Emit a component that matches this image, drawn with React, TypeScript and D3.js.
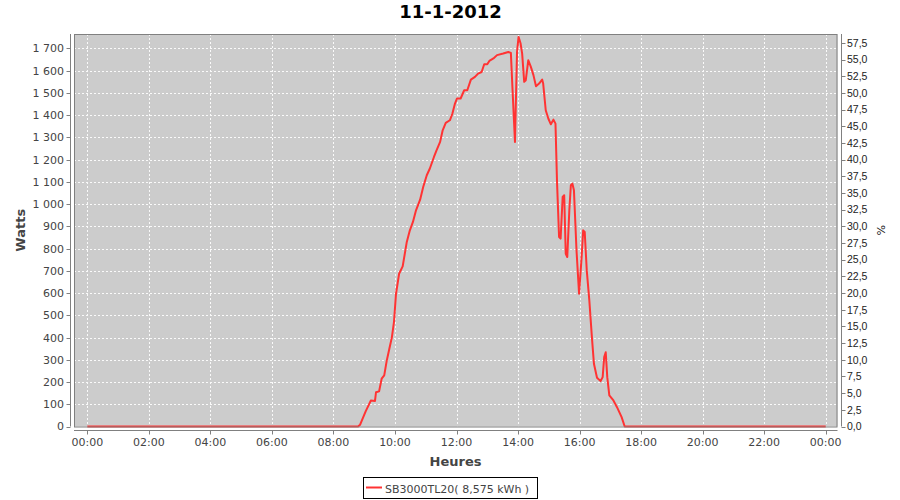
import React from "react";
import * as d3 from "d3";

const TITLE = "11-1-2012";
const LEGEND_LABEL = "SB3000TL20( 8,575 kWh )";
const X_LABEL = "Heures";
const Y_LABEL = "Watts";
const Y2_LABEL = "%";

// time of day (HH:MM) and power (W)
const times = [
  "00:00", "08:48", "08:52", "09:03", "09:13", "09:21", "09:23", "09:29", "09:34", "09:39",
  "09:44", "09:49", "09:54", "09:58", "10:02", "10:08", "10:15", "10:23", "10:29", "10:35",
  "10:41", "10:49", "10:55", "11:02", "11:08", "11:16", "11:21", "11:28", "11:33", "11:39",
  "11:47", "11:52", "11:57", "12:01", "12:08", "12:15", "12:21", "12:28", "12:36", "12:42",
  "12:49", "12:54", "13:00", "13:04", "13:12", "13:19", "13:31", "13:41", "13:46", "13:49",
  "13:54", "13:58", "14:01", "14:05", "14:08", "14:12", "14:15", "14:20", "14:25", "14:30",
  "14:35", "14:41", "14:47", "14:49", "14:54", "14:59", "15:04", "15:09", "15:13", "15:16",
  "15:20", "15:23", "15:27", "15:30", "15:33", "15:36", "15:40", "15:43", "15:46", "15:49",
  "15:54", "15:59", "16:04", "16:07", "16:10", "16:14", "16:19", "16:24", "16:28", "16:34",
  "16:41", "16:45", "16:48", "16:51", "16:54", "16:58", "17:06", "17:13", "17:22", "17:28",
  "24:00",
];
const watts = [
  0, 0, 8, 69, 117, 115, 154, 158, 215, 230,
  297, 350, 402, 469, 597, 687, 720, 830, 882, 920,
  972, 1020, 1077, 1130, 1160, 1212, 1242, 1280, 1332, 1365,
  1377, 1407, 1452, 1475, 1475, 1512, 1512, 1560, 1572, 1587,
  1594, 1629, 1629, 1644, 1655, 1670, 1677, 1684, 1680, 1527,
  1279, 1684, 1752, 1722, 1677, 1550, 1557, 1647, 1617, 1580,
  1530, 1542, 1560, 1542, 1422, 1385, 1359, 1380, 1362, 1100,
  852, 845, 1032, 1040, 777, 762, 972, 1085, 1092, 1062,
  792, 597, 762, 882, 875, 702, 567, 402, 282, 219,
  204, 222, 312, 334, 222, 140, 117, 87, 42, 0,
  0,
];

const xTickHours = [0, 2, 4, 6, 8, 10, 12, 14, 16, 18, 20, 22, 24];
const yTicks = [0, 100, 200, 300, 400, 500, 600, 700, 800, 900, 1000, 1100, 1200, 1300, 1400, 1500, 1600, 1700];
const y2Ticks = [0, 2.5, 5, 7.5, 10, 12.5, 15, 17.5, 20, 22.5, 25, 27.5, 30, 32.5, 35, 37.5, 40, 42.5, 45, 47.5, 50, 52.5, 55, 57.5];
const RATED_W = 3000;
const Y_MAX = 1765;

const toMin = (t: string) => {
  const [h, m] = t.split(":").map(Number);
  return h * 60 + m;
};

export default function App() {
  const L = 74, R = 837.5, T = 34, B = 426.5;
  const x = d3.scaleLinear().domain([-26, 1463]).range([L, R]);
  const y = d3.scaleLinear().domain([0, Y_MAX]).range([B, T]);
  const y2 = d3.scaleLinear().domain([0, (Y_MAX / RATED_W) * 100]).range([B, T]);

  const pts = times.map((t, i) => [toMin(t), watts[i]] as [number, number]);
  const line = d3
    .line<[number, number]>()
    .x((d) => x(d[0]))
    .y((d) => y(d[1]));

  const fmtY = (v: number) => {
    const s = String(v);
    return v >= 1000 ? s.slice(0, s.length - 3) + " " + s.slice(-3) : s;
  };
  const fmtY2 = (v: number) => v.toFixed(1).replace(".", ",");
  const fmtX = (h: number) => String(h % 24).padStart(2, "0") + ":00";

  const tickFont = "DejaVu Sans, sans-serif";
  const axisColor = "#808080";
  const textColor = "#444444";

  return (
    <svg
      width={900}
      height={500}
      style={{ position: "absolute", left: 0, top: 0, background: "#ffffff" }}
    >
      <rect x={0} y={0} width={900} height={500} fill="#ffffff" />
      <text x={450.5} y={17.5} textAnchor="middle" fontFamily={tickFont} fontWeight="bold" fontSize={18} fill="#000">
        {TITLE}
      </text>

      {/* plot background */}
      <rect x={L} y={T} width={R - L} height={B - T} fill="#cccccc" />

      {/* grid */}
      <g stroke="#ffffff" strokeWidth={1} strokeDasharray="2,2" opacity={0.9}>
        {xTickHours.map((h) => (
          <line key={"gx" + h} x1={Math.round(x(h * 60)) + 0.5} x2={Math.round(x(h * 60)) + 0.5} y1={T} y2={B} />
        ))}
        {yTicks.map((v) => (
          <line key={"gy" + v} x1={L} x2={R} y1={Math.round(y(v)) + 0.5} y2={Math.round(y(v)) + 0.5} />
        ))}
      </g>

      {/* data line */}
      <path d={line(pts) || ""} fill="none" stroke="#ff3333" strokeWidth={2} strokeLinejoin="round" />

      {/* plot border */}
      <rect x={L + 0.5} y={T + 0.5} width={R - L - 1} height={B - T} fill="none" stroke={axisColor} strokeWidth={1} />

      {/* left axis */}
      <line x1={70.5} x2={70.5} y1={T} y2={B} stroke={axisColor} />
      {yTicks.map((v) => (
        <g key={"yt" + v}>
          <line x1={66.5} x2={70.5} y1={Math.round(y(v)) + 0.5} y2={Math.round(y(v)) + 0.5} stroke={axisColor} />
          <text x={64} y={y(v)} dy="0.36em" textAnchor="end" fontFamily={tickFont} fontSize={11} fill={textColor}>
            {fmtY(v)}
          </text>
        </g>
      ))}
      <text
        transform={`translate(25,${(T + B) / 2}) rotate(-90)`}
        textAnchor="middle"
        fontFamily={tickFont}
        fontWeight="bold"
        fontSize={13}
        fill={textColor}
      >
        {Y_LABEL}
      </text>

      {/* right axis */}
      <line x1={841.5} x2={841.5} y1={T} y2={B} stroke={axisColor} />
      {y2Ticks.map((v) => (
        <g key={"y2t" + v}>
          <line x1={841.5} x2={845.5} y1={Math.round(y2(v)) + 0.5} y2={Math.round(y2(v)) + 0.5} stroke={axisColor} />
          <text x={847} y={y2(v)} dy="0.36em" textAnchor="start" fontFamily="Liberation Sans, Arial, sans-serif" fontSize={10.5} fill="#222">
            {fmtY2(v)}
          </text>
        </g>
      ))}
      <text
        transform={`translate(877,${(T + B) / 2}) rotate(90)`}
        textAnchor="middle"
        fontFamily={tickFont}
        fontSize={11}
        fill="#222"
      >
        {Y2_LABEL}
      </text>

      {/* bottom axis */}
      <line x1={L} x2={R} y1={430.5} y2={430.5} stroke={axisColor} />
      {xTickHours.map((h) => (
        <g key={"xt" + h}>
          <line x1={Math.round(x(h * 60)) + 0.5} x2={Math.round(x(h * 60)) + 0.5} y1={430.5} y2={434.5} stroke={axisColor} />
          <text x={x(h * 60)} y={446} textAnchor="middle" fontFamily={tickFont} fontSize={11} fill={textColor}>
            {fmtX(h)}
          </text>
        </g>
      ))}
      <text x={455.5} y={465.5} textAnchor="middle" fontFamily={tickFont} fontWeight="bold" fontSize={13} fill={textColor}>
        {X_LABEL}
      </text>

      {/* legend */}
      <rect x={363.5} y={477.5} width={174} height={21} fill="#ffffff" stroke="#000000" strokeWidth={1} />
      <line x1={366} x2={382} y1={487.5} y2={487.5} stroke="#ff3333" strokeWidth={2} />
      <text x={385} y={492.5} fontFamily={tickFont} fontSize={11} fill={textColor}>
        {LEGEND_LABEL}
      </text>
    </svg>
  );
}
